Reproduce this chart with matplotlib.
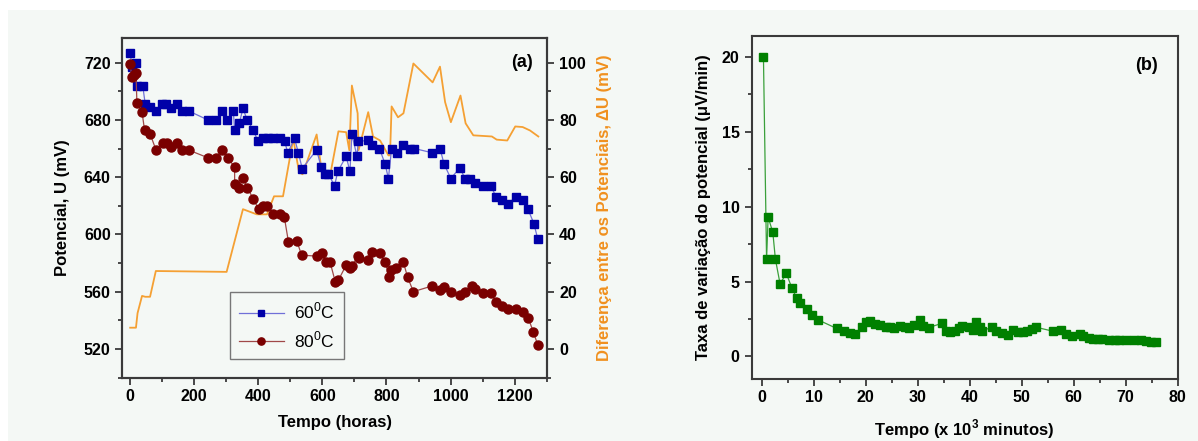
import matplotlib
matplotlib.use("Agg")
import matplotlib.pyplot as plt
from matplotlib.ticker import MultipleLocator
from matplotlib.patches import Rectangle

plt.rcParams['font.family'] = ['Liberation Sans', 'DejaVu Sans']
plt.rcParams['mathtext.fontset'] = 'custom'
plt.rcParams['mathtext.rm'] = 'Liberation Sans'
plt.rcParams['mathtext.bf'] = 'Liberation Sans:bold'

# ---------------- data: panel (a) ----------------
t60 = [0, 6, 18, 20, 39, 47, 62, 80, 99, 112, 127, 146, 161, 185, 242, 268, 287, 302,
       322, 326, 341, 352, 365, 384, 399, 416, 431, 447, 467, 482, 492, 513, 525, 537,
       582, 596, 608, 619, 638, 648, 674, 686, 692, 708, 712, 741, 754, 778, 796, 806,
       816, 834, 853, 872, 887, 943, 967, 980, 1001, 1029, 1045, 1061, 1077, 1100,
       1127, 1142, 1160, 1178, 1203, 1225, 1241, 1260, 1272]
u60 = [726.8, 716.7, 719.5, 704, 704, 691, 689, 686, 691, 691, 688, 691, 686, 686, 680,
       680, 686, 680, 686, 673, 678, 688, 680, 673, 665, 667, 667, 667, 667, 665, 657,
       667, 657, 646, 659, 647, 642, 642, 634, 644, 654.5, 644, 670, 654.5, 665, 665.6,
       662.6, 660, 649, 639, 660, 657, 662.6, 660, 660, 657, 660, 649, 639, 646.6, 639,
       639, 636, 633.6, 633.6, 626, 624, 621, 626, 624, 618, 607.6, 597]

t80 = [0, 5, 13, 18, 21, 37, 45, 62, 81, 101, 115, 128, 146, 161, 185, 242, 268, 287,
       304, 326, 326, 341, 352, 365, 384, 401, 414, 427, 447, 467, 481, 494, 520, 535,
       582, 598, 611, 624, 640, 650, 674, 686, 692, 710, 714, 741, 754, 780, 796, 809,
       813, 831, 853, 866, 884, 943, 967, 980, 1001, 1029, 1045, 1066, 1077, 1100,
       1127, 1142, 1160, 1178, 1203, 1227, 1243, 1258, 1272]
u80 = [719, 710, 711.4, 712.5, 692, 685.4, 672.6, 670.3, 658.7, 663.8, 663.8, 661, 663.8,
       658.7, 658.7, 653.6, 653.6, 658.7, 653.6, 647, 635, 632.7, 639.7, 632.7, 625,
       617.4, 620, 620, 614, 614, 612.2, 594.8, 595.5, 585.5, 584.8, 586.7, 580.6, 580.6,
       567, 568, 578.5, 576.2, 577.8, 584.8, 583.2, 582, 587.8, 586.7, 580.4, 570.4, 575,
       576.2, 580.4, 570, 560, 564, 561, 563.4, 560, 557.6, 560, 564, 561.6, 559.3,
       559.3, 552.5, 550, 548, 548, 545.6, 541.4, 532, 523]

t_du = [0, 18, 23, 37, 47, 62, 80, 301, 352, 395, 427, 449, 477, 509, 527, 538, 582, 596,
        608, 624, 650, 674, 684, 692, 710, 713, 743, 758, 780, 806, 811, 816, 836, 853,
        884, 944, 967, 983, 1001, 1031, 1047, 1071, 1129, 1144, 1177, 1202, 1225, 1248, 1274]
du = [7.4, 7.4, 12.5, 18.5, 18.2, 18.2, 27.2, 26.9, 48.8, 47, 47, 53.3, 53.3, 73.4, 61.8,
      61, 74.9, 63.5, 61.2, 60.6, 76, 75.7, 69.4, 92, 82.3, 69.4, 82.7, 74.2, 72.8, 67.6,
      67.6, 84.7, 80.9, 82.3, 99.7, 93.1, 98.6, 86.2, 79.2, 88.5, 78.8, 74.6, 74.2, 73.1,
      72.8, 77.7, 77.5, 76.3, 74.2]

series_labels = [r'60$^{\mathregular{0}}$C', r'80$^{\mathregular{0}}$C']

# ---------------- data: panel (b) ----------------
t_min = [0.3, 0.9, 1.2, 2.1, 2.6, 3.5, 4.7, 5.8, 6.7, 7.4, 8.6, 9.6, 10.8, 14.4, 15.9,
         17.0, 17.9, 19.3, 20.1, 20.8, 21.7, 22.8, 23.8, 24.6, 25.4, 26.6, 27.5, 28.3,
         29.2, 30.4, 31.0, 32.1, 34.7, 35.5, 36.3, 37.1, 37.9, 38.6, 39.9, 40.7, 41.3,
         41.9, 42.4, 44.2, 45.1, 46.3, 47.4, 48.3, 49.3, 50.3, 51.1, 51.9, 52.7, 56.0,
         57.6, 58.5, 59.6, 61.3, 61.9, 62.9, 63.8, 64.7, 65.5, 66.9, 67.9, 68.8, 70.1,
         71.7, 73.0, 74.0, 74.9, 75.9]
taxa = [20, 6.5, 9.3, 8.3, 6.5, 4.85, 5.55, 4.55, 3.9, 3.55, 3.15, 2.8, 2.45, 1.87, 1.7,
        1.58, 1.47, 2.0, 2.29, 2.36, 2.2, 2.09, 2.0, 1.96, 1.9, 2.05, 2.0, 1.93, 2.13,
        2.44, 2.04, 1.93, 2.22, 1.73, 1.62, 1.67, 1.89, 2.04, 1.96, 1.78, 2.29, 1.96,
        1.69, 1.96, 1.69, 1.56, 1.45, 1.78, 1.62, 1.62, 1.73, 1.84, 1.96, 1.69, 1.78,
        1.51, 1.36, 1.51, 1.36, 1.24, 1.18, 1.16, 1.16, 1.13, 1.1, 1.08, 1.07, 1.1,
        1.07, 1.04, 1.0, 0.98]

# ---------------- figure ----------------
W, H = 1198, 441
fig = plt.figure(figsize=(W / 100, H / 100), dpi=100, facecolor='white')
bg = '#f4f8f5'
fig.patches.append(Rectangle((8 / W, 0), 1, 1 - 10 / H, transform=fig.transFigure,
                             facecolor=bg, edgecolor='none', zorder=-10))

def px_axes(x0, y0, x1, y1):
    return fig.add_axes([x0 / W, 1 - y1 / H, (x1 - x0) / W, (y1 - y0) / H])

spine_col = '#3a3a3a'
tick_fs = 11.5
lab_fs = 12

def style(ax):
    ax.set_facecolor(bg)
    for s in ax.spines.values():
        s.set_color(spine_col)
        s.set_linewidth(1.5)
    ax.tick_params(which='both', direction='out', color=spine_col, width=1.3,
                   labelsize=tick_fs, top=False, right=False)
    ax.tick_params(which='major', length=5)
    ax.tick_params(which='minor', length=3)

# ---- panel (a) ----
ax = px_axes(122.5, 38.3, 547.3, 377.5)
ax2 = ax.twinx()
ax.set_zorder(ax2.get_zorder() + 1)
ax.patch.set_visible(False)
ax2.set_facecolor(bg)

ax2.plot(t_du, du, color='#f5a033', lw=1.3)
ax2.set_ylim(-10, 108.5)

ax.plot(t60, u60, color='#7070d8', lw=0.9, marker='s', ms=5.2, mfc='#0000a8',
        mec='#0000a8', label=series_labels[0])
ax.plot(t80, u80, color='#a04848', lw=0.9, marker='o', ms=6.5, mfc='#7a0000',
        mec='#7a0000', label=series_labels[1])
ax.set_xlim(-24, 1302)
ax.set_ylim(500, 737)
ax.xaxis.set_minor_locator(MultipleLocator(100))
ax.yaxis.set_minor_locator(MultipleLocator(20))
style(ax)
ax.set_yticks(range(520, 721, 40))
ax.set_yticklabels([str(v) for v in range(520, 721, 40)], fontweight='bold')
ax.set_xticks(range(0, 1201, 200))
ax.set_xticklabels([str(v) for v in range(0, 1201, 200)], fontweight='bold')

ax2.yaxis.set_minor_locator(MultipleLocator(10))
for s in ax2.spines.values():
    s.set_color(spine_col)
    s.set_linewidth(1.5)
ax2.tick_params(which='both', direction='out', color=spine_col, width=1.3,
                labelsize=tick_fs)
ax2.tick_params(which='major', length=5)
ax2.tick_params(which='minor', length=3)
ax2.set_yticks(range(0, 101, 20))
ax2.set_yticklabels([str(v) for v in range(0, 101, 20)], fontweight='bold')
ax2.set_ylabel('Diferença entre os Potenciais, \u0394U (mV)', color='#f0901e',
               fontsize=lab_fs, fontweight='bold', labelpad=8)

ax.set_xlabel('Tempo (horas)', fontsize=lab_fs, fontweight='bold', labelpad=8)
ax.set_ylabel('Potencial, U (mV)', fontsize=lab_fs, fontweight='bold', labelpad=10)
ax.text(0.965, 0.955, '(a)', transform=ax.transAxes, ha='right', va='top',
        fontsize=13, fontweight='bold')

leg = ax.legend(loc='lower left', bbox_to_anchor=(0.253, 0.055), fontsize=12.5,
                frameon=True, fancybox=False, edgecolor='#777777', framealpha=1,
                facecolor=bg, handlelength=2.6, borderpad=0.5, labelspacing=0.45,
                handletextpad=0.6, borderaxespad=0, markerscale=0.8)
leg.get_frame().set_linewidth(1.0)

# ---- panel (b) ----
bx = px_axes(751.5, 36, 1177.5, 378.5)
bx.plot(t_min, taxa, color='#3aa03a', lw=0.9, marker='s', ms=5.5, mfc='#008000',
        mec='#008000')
bx.set_xlim(-2, 80)
bx.set_ylim(-1.47, 21.4)
bx.xaxis.set_minor_locator(MultipleLocator(5))
bx.yaxis.set_minor_locator(MultipleLocator(2.5))
style(bx)
bx.set_xticks(range(0, 81, 10))
bx.set_xticklabels([str(v) for v in range(0, 81, 10)], fontweight='bold')
bx.set_yticks(range(0, 21, 5))
bx.set_yticklabels([str(v) for v in range(0, 21, 5)], fontweight='bold')
bx.set_xlabel(r'Tempo (x 10$^{\mathbf{3}}$ minutos)', fontsize=lab_fs,
              fontweight='bold', labelpad=9)
bx.set_ylabel('Taxa de variação do potencial (\u03bcV/min)', fontsize=lab_fs,
              fontweight='bold', labelpad=8)
bx.text(0.955, 0.94, '(b)', transform=bx.transAxes, ha='right', va='top',
        fontsize=13, fontweight='bold')

fig.savefig('out.png', dpi=100, facecolor='white')
